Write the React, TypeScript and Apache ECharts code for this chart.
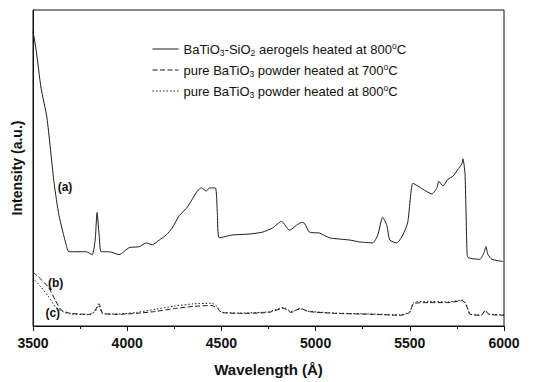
import React, { useEffect, useRef } from "react";
import * as echarts from "echarts";

// Wavelength (Å) and intensity (a.u.)
const aX = [3500, 3516, 3543, 3574, 3612, 3638, 3676, 3691, 3782, 3814, 3830, 3840, 3851, 3862, 3904, 3957, 4011, 4064, 4101, 4133, 4170, 4207, 4239, 4277, 4314, 4340, 4372, 4394, 4420, 4436, 4468, 4479, 4489, 4559, 4649, 4718, 4771, 4819, 4862, 4899, 4926, 4941, 4968, 5021, 5074, 5181, 5234, 5303, 5330, 5356, 5378, 5394, 5431, 5463, 5489, 5516, 5543, 5569, 5617, 5644, 5654, 5676, 5702, 5729, 5755, 5777, 5782, 5793, 5803, 5809, 5872, 5894, 5904, 5915, 5936, 5995];
const aY = [93.2, 87.6, 75.2, 65.9, 45.2, 35.0, 25.7, 23.5, 23.5, 22.6, 27.2, 35.9, 28.8, 23.5, 23.5, 22.6, 24.8, 25.1, 26.3, 25.7, 27.2, 28.8, 31.0, 35.0, 37.2, 39.6, 42.7, 43.7, 42.7, 43.7, 43.7, 35.0, 27.9, 28.8, 29.1, 29.7, 31.0, 33.1, 30.3, 31.9, 32.8, 32.5, 29.7, 29.4, 27.9, 27.2, 26.6, 26.3, 28.8, 34.4, 31.9, 27.2, 26.3, 28.8, 32.8, 45.2, 44.3, 43.3, 41.8, 43.7, 45.8, 44.3, 46.4, 47.4, 49.5, 51.4, 52.9, 48.3, 24.8, 21.7, 21.1, 23.2, 25.1, 22.6, 21.1, 20.4];

const bX = [3500, 3530, 3580, 3620, 3650, 3700, 3800, 3830, 3850, 3870, 3950, 4050, 4150, 4250, 4350, 4450, 4480, 4500, 4600, 4750, 4830, 4870, 4920, 4960, 5100, 5300, 5450, 5500, 5520, 5600, 5700, 5780, 5800, 5820, 5880, 5900, 5920, 6000];
const bY = [17.0, 15.5, 12.4, 8.0, 5.0, 4.0, 3.7, 5.0, 7.1, 4.0, 3.7, 4.0, 4.6, 5.5, 6.2, 6.5, 5.5, 4.3, 4.0, 4.3, 5.6, 4.3, 5.6, 4.6, 4.0, 3.7, 3.4, 4.3, 7.1, 7.4, 7.4, 8.0, 6.5, 3.7, 3.4, 5.0, 3.7, 3.4];

const cX = [3510, 3540, 3580, 3620, 3660, 3700, 3800, 3830, 3850, 3870, 3950, 4050, 4150, 4250, 4350, 4450, 4480, 4500, 4600, 4750, 4830, 4870, 4920, 4960, 5100, 5300, 5450, 5500, 5520, 5600, 5700, 5780, 5800, 5820, 5880, 5900, 5920, 6000];
const cY = [14.5, 12.5, 9.5, 6.0, 4.5, 3.8, 3.6, 4.6, 6.5, 3.9, 3.8, 4.3, 5.3, 6.3, 7.0, 7.2, 6.0, 4.4, 4.1, 4.5, 5.9, 4.6, 5.4, 4.7, 4.1, 3.8, 3.5, 4.5, 7.4, 7.8, 7.6, 8.2, 6.8, 3.8, 3.5, 4.8, 3.8, 3.5];

const xTicks = [3500, 4000, 4500, 5000, 5500, 6000];

const seriesNames = ["a", "b", "c"];
const legendTexts = [
  "{n|BaTiO}{sub|3}{n|-SiO}{sub|2}{n| aerogels heated at 800}{sup|o}{n|C}",
  "{n|pure BaTiO}{sub|3}{n| powder heated at 700}{sup|o}{n|C}",
  "{n|pure BaTiO}{sub|3}{n| powder heated at 800}{sup|o}{n|C}",
];

const FONT = "Liberation Sans, Arial, Helvetica, sans-serif";

const zip = (xs: number[], ys: number[]) => xs.map((x, i) => [x, ys[i]]);

export default function App() {
  const ref = useRef<HTMLDivElement>(null);
  useEffect(() => {
    if (!ref.current) return;
    const chart = echarts.init(ref.current, null, { renderer: "svg" });
    const lineColor = "#1a1a1a";
    const labelStyle = { fontFamily: FONT, fontSize: 12, fontWeight: "bold", color: "#111" };
    chart.setOption({
      animation: false,
      backgroundColor: "#ffffff",
      grid: { left: 33, right: 40, top: 10, bottom: 49, show: true, borderColor: "#111", borderWidth: 1, containLabel: false },
      legend: {
        orient: "vertical",
        left: 147,
        top: 36,
        itemWidth: 26,
        itemHeight: 14,
        itemGap: 5,
        data: seriesNames,
        itemStyle: { opacity: 0 },
        lineStyle: { width: 1 },
        formatter: (name: string) => legendTexts[seriesNames.indexOf(name)],
        textStyle: {
          fontFamily: FONT,
          rich: {
            n: { fontSize: 13, fontFamily: FONT, color: "#111", lineHeight: 16, verticalAlign: "middle" },
            sub: { fontSize: 8.5, fontFamily: FONT, color: "#111", lineHeight: 8, verticalAlign: "bottom" },
            sup: { fontSize: 8.5, fontFamily: FONT, color: "#111", lineHeight: 8, verticalAlign: "top" },
          },
        },
      },
      xAxis: {
        type: "value",
        min: 3500,
        max: 6000,
        interval: 500,
        name: "Wavelength (Å)",
        nameLocation: "middle",
        nameGap: 36,
        nameTextStyle: { fontFamily: FONT, fontSize: 15, fontWeight: "bold", color: "#111" },
        axisLine: { show: true, lineStyle: { color: "#111", width: 1 } },
        axisTick: { show: true, inside: false, length: 5, lineStyle: { color: "#111" } },
        minorTick: { show: true, splitNumber: 2, length: 3, lineStyle: { color: "#111" } },
        splitLine: { show: false },
        axisLabel: {
          fontFamily: FONT, fontSize: 14, fontWeight: "bold", color: "#111", margin: 10,
          formatter: (v: number) => (xTicks.includes(v) ? String(v) : ""),
        },
      },
      yAxis: {
        type: "value",
        min: 0,
        max: 100,
        name: "Intensity (a.u.)",
        nameLocation: "middle",
        nameGap: 9,
        nameTextStyle: { fontFamily: FONT, fontSize: 14, fontWeight: "bold", color: "#111" },
        axisLine: { show: true, lineStyle: { color: "#111" } },
        axisTick: { show: false },
        axisLabel: { show: false },
        splitLine: { show: false },
      },
      series: [
        {
          name: "a", type: "line", data: zip(aX, aY), symbol: "none", smooth: 0.2,
          lineStyle: { color: lineColor, width: 1 }, itemStyle: { color: lineColor },
          markPoint: {
            symbol: "circle", symbolSize: 0,
            label: { show: true, formatter: "(a)", ...labelStyle },
            data: [{ coord: [3670, 44] }],
          },
        },
        {
          name: "b", type: "line", data: zip(bX, bY), symbol: "none", smooth: 0.2,
          lineStyle: { color: lineColor, width: 1, type: [5, 2.5] }, itemStyle: { color: lineColor },
          markPoint: {
            symbol: "circle", symbolSize: 0,
            label: { show: true, formatter: "(b)", ...labelStyle },
            data: [{ coord: [3620, 13.5] }],
          },
        },
        {
          name: "c", type: "line", data: zip(cX, cY), symbol: "none", smooth: 0.2,
          lineStyle: { color: lineColor, width: 1, type: [1.5, 2] }, itemStyle: { color: lineColor },
          markPoint: {
            symbol: "circle", symbolSize: 0,
            label: { show: true, formatter: "(c)", ...labelStyle },
            data: [{ coord: [3605, 4] }],
          },
        },
      ],
    });
    return () => chart.dispose();
  }, []);
  return <div ref={ref} style={{ width: 544, height: 382, position: "absolute", left: 0, top: 0 }} />;
}
